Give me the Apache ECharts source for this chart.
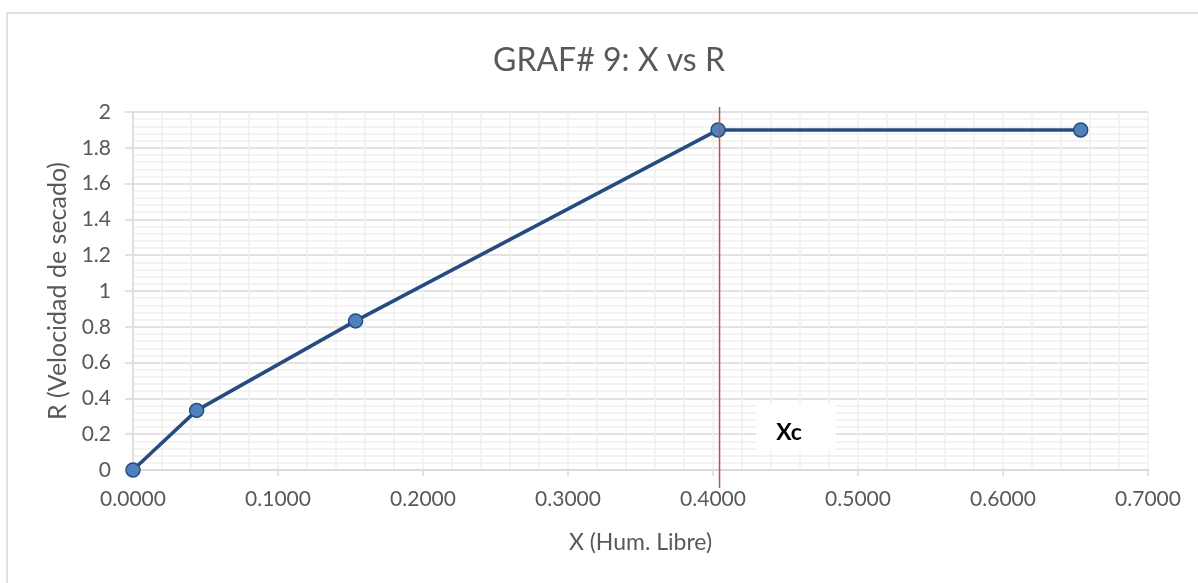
<!DOCTYPE html>
<html>
<head>
<meta charset="utf-8">
<script src="https://cdn.jsdelivr.net/npm/echarts@6/dist/echarts.min.js"></script>
<style>
html,body{margin:0;padding:0;background:#fff;}
#c{width:1198px;height:583px;}
</style>
</head>
<body>
<div id="c"></div>
<script>
// Data
const titleText = 'GRAF# 9: X vs R';
const xName = 'X (Hum. Libre)';
const yName = 'R (Velocidad de secado)';
const xValues = [0.0000, 0.0439, 0.1535, 0.4035, 0.6536];
const rValues = [0.0, 0.333, 0.833, 1.900, 1.900];
const xcValue = 0.4045;
const xcLabel = 'Xc';
const xAxisRange = [0, 0.7, 0.1];
const yAxisRange = [0, 2, 0.2];

const FONT = 'Lato, "Open Sans", sans-serif';
const TXT = '#595959';

const chart = echarts.init(document.getElementById('c'), null, {renderer: 'canvas'});
const points = xValues.map((x, i) => [x, rValues[i]]);

chart.setOption({
  animation: false,
  backgroundColor: '#fff',
  title: {
    text: titleText, left: 488, top: 40,
    textStyle: {fontFamily: FONT, fontSize: 32, fontWeight: 'normal', color: TXT}
  },
  grid: {left: 133, right: 50, top: 112, bottom: 113, containLabel: false},
  xAxis: {
    type: 'value', min: xAxisRange[0], max: xAxisRange[1], interval: xAxisRange[2],
    name: xName, nameLocation: 'middle', nameGap: 61,
    nameTextStyle: {fontFamily: FONT, fontSize: 23, color: TXT},
    axisLine: {show: true, lineStyle: {color: '#D9D9D9', width: 1.5}},
    axisTick: {show: true, length: 6, lineStyle: {color: '#D9D9D9', width: 1.5}},
    axisLabel: {fontFamily: FONT, fontSize: 21, color: TXT, margin: 19, formatter: v => v.toFixed(4)},
    splitLine: {show: true, lineStyle: {color: '#F0F0F0', width: 1.5}},
    minorTick: {show: false, splitNumber: 5},
    minorSplitLine: {show: true, lineStyle: {color: '#F0F0F0', width: 1.5}}
  },
  yAxis: {
    type: 'value', min: yAxisRange[0], max: yAxisRange[1], interval: yAxisRange[2],
    name: yName, nameLocation: 'middle', nameGap: 58, nameRotate: 90,
    nameTextStyle: {fontFamily: FONT, fontSize: 25, color: TXT},
    axisLine: {show: true, lineStyle: {color: '#D9D9D9', width: 1.5}},
    axisTick: {show: true, length: 8, lineStyle: {color: '#D9D9D9', width: 1.5}},
    axisLabel: {fontFamily: FONT, fontSize: 21, color: TXT, margin: 22},
    splitLine: {show: true, lineStyle: {color: '#D9D9D9', width: 1.5}},
    minorTick: {show: false, splitNumber: 5},
    minorSplitLine: {show: true, lineStyle: {color: '#F0F0F0', width: 1.5}}
  },
  series: [{
    type: 'line', data: points,
    symbol: 'circle', symbolSize: 14,
    lineStyle: {color: '#264C7F', width: 3.5},
    itemStyle: {color: '#4F81BD', borderColor: '#264C7F', borderWidth: 1.5},
    z: 3
  }]
});

const pTop = chart.convertToPixel({gridIndex: 0}, [xcValue, 2.028]);
const pBot = chart.convertToPixel({gridIndex: 0}, [xcValue, -0.1]);

chart.setOption({
  graphic: [
    {type: 'rect', shape: {x: 7, y: 13, width: 1200, height: 600},
     style: {fill: 'none', stroke: '#D9D9D9', lineWidth: 1.5}, silent: true, z: 0},
    {type: 'line', shape: {x1: pTop[0], y1: pTop[1], x2: pBot[0], y2: pBot[1]},
     style: {stroke: '#C0504D', lineWidth: 1.5}, z: 10},
    {type: 'rect', shape: {x: 756, y: 404, width: 80, height: 47},
     style: {fill: '#fff'}, z: 10},
    {type: 'text', x: 789, y: 433,
     style: {text: xcLabel, font: 'bold 23px ' + FONT, fill: '#000', align: 'center', verticalAlign: 'middle'}, z: 11}
  ]
});
</script>
</body>
</html>
